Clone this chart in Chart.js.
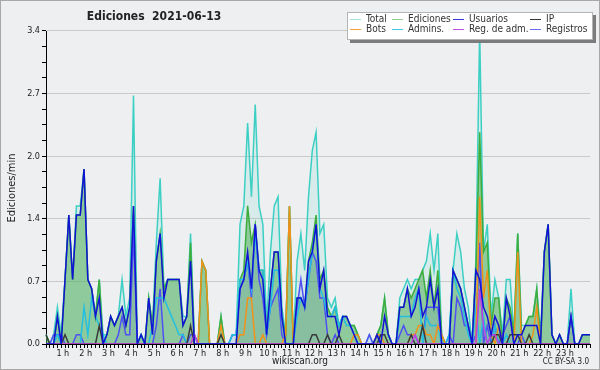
<!DOCTYPE html>
<html>
<head>
<meta charset="utf-8">
<script src="https://cdn.jsdelivr.net/npm/chart.js@4.4.1/dist/chart.umd.min.js"></script>
<style>
  html, body { margin: 0; padding: 0; background: #eeeff1; }
  canvas { display: block; }
</style>
</head>
<body>
<canvas id="edits" width="600" height="370"></canvas>
<script>
// 10-minute slots over the day, values in edits per minute
const slots = Array.from({ length: 144 }, (_, i) => i);
const hourTicks = ['1 h','2 h','3 h','4 h','5 h','6 h','7 h','8 h','9 h','10 h','11 h','12 h',
                   '13 h','14 h','15 h','16 h','17 h','18 h','19 h','20 h','21 h','22 h','23 h'];
const yTicks = ['0.0','0.7','1.4','2.0','2.7','3.4'];

const total = [
  0.1,0,0.1,0.4,0.1,0.7, 1.4,0.7,1.5,1.5,1.9,0.7, 0.6,0.3,0.7,0.1,0.1,0.3, 0.2,0.3,0.7,0.3,0.5,2.7,
  0,0.1,0,0.5,0.2,1.1, 1.8,0.6,0.7,0.7,0.7,0.7, 0.3,0.3,1.2,0.1,0,0.9, 0.8,0,0,0,0.3,0,
  0,0.1,0.1,1.3,1.5,2.4, 1.6,2.6,1.5,1.3,0.2,1.0, 1.5,1.6,0.4,0.1,1.5,0, 0.9,1.2,0.8,1.6,2.1,2.3,
  1.2,1.3,0.5,0.4,0.5,0.2, 0.3,0.3,0.2,0.2,0.1,0, 0,0.1,0,0.1,0.2,0.5, 0.1,0,0,0.5,0.6,0.7,
  0.6,0.7,0.7,0.8,0.9,1.2, 0.8,1.2,0.1,0,0.1,0.8, 1.2,1.0,0.6,0.4,0,0.9, 3.4,1.0,1.3,0.3,0.7,0.5,
  0.1,0.7,0.7,0.1,1.2,0.2, 0.2,0.3,0.3,0.6,0.1,1.0, 1.3,0.1,0,0.1,0,0, 0.6,0,0,0.1,0.1,0.1
];
const ediciones = [
  0.1,0,0,0.3,0,0.7, 1.4,0.7,1.4,1.4,1.9,0.7, 0.6,0.3,0.7,0,0.1,0.3, 0.2,0.3,0.4,0.2,0.4,1.5,
  0,0.1,0,0.5,0.2,0.9, 1.2,0.6,0.7,0.7,0.7,0.7, 0.2,0.3,1.1,0,0,0.9, 0.8,0,0,0,0.3,0,
  0,0,0,0.7,0.8,1.5, 1.1,1.3,0.8,0.8,0.1,0.6, 1.0,1.0,0.3,0.1,1.5,0, 0.5,0.5,0.4,0.9,1.1,1.4,
  0.7,0.8,0.4,0.3,0.4,0.2, 0.3,0.3,0.2,0.2,0.1,0, 0,0,0,0.1,0.2,0.5, 0.1,0,0,0.4,0.4,0.6,
  0.5,0.6,0.7,0.8,0.5,0.8, 0.4,0.8,0.1,0,0,0.8, 0.7,0.6,0.4,0.2,0,0.8, 2.3,1.0,1.1,0.2,0.5,0.5,
  0,0.5,0.4,0.1,1.2,0.1, 0.2,0.3,0.3,0.6,0,1.0, 1.3,0.1,0,0.1,0,0, 0.3,0,0,0.1,0.1,0.1
];
const usuarios = [
  0,0,0,0.3,0,0.7, 1.4,0.7,1.4,1.4,1.9,0.7, 0.6,0.3,0.5,0,0.1,0.3, 0.2,0.3,0.4,0.2,0.4,1.5,
  0,0.1,0,0.5,0.1,0.9, 1.2,0.5,0.7,0.7,0.7,0.7, 0.2,0.3,0.9,0,0,0, 0,0,0,0,0,0,
  0,0,0,0.6,0.7,1.0, 0.6,1.3,0.8,0.7,0.1,0.6, 1.0,1.0,0.3,0,0,0, 0.5,0.5,0.4,0.9,1.0,1.3,
  0.6,0.8,0.3,0.3,0.3,0.1, 0.3,0.3,0.2,0.1,0,0, 0,0,0,0.1,0,0.3, 0.1,0,0,0.4,0.4,0.6,
  0.3,0.4,0.6,0.3,0.4,0.7, 0.4,0.6,0,0,0,0.8, 0.7,0.6,0.4,0.2,0,0.8, 0.7,0.4,0.3,0.1,0.3,0.2,
  0,0.5,0.3,0,0.1,0.1, 0.2,0.2,0.2,0.2,0,1.0, 1.3,0.1,0,0.1,0,0, 0.3,0,0,0.1,0.1,0.1
];
const ip = [
  0.1,0,0,0,0,0.1, 0,0,0,0,0,0, 0,0,0.2,0,0,0, 0,0,0,0,0,0,
  0,0,0,0,0,0, 0,0,0,0,0,0, 0,0,0.2,0,0,0, 0,0,0,0,0.1,0,
  0,0,0,0,0,0, 0,0,0,0,0,0, 0,0,0,0,0,0, 0,0,0,0,0.1,0.1,
  0,0,0.1,0,0,0.1, 0,0,0,0,0,0, 0,0,0,0,0.1,0.1, 0,0,0,0,0,0,
  0.1,0,0,0.2,0,0, 0,0,0,0,0,0, 0,0,0,0,0,0, 0,0,0,0,0.1,0.1,
  0,0,0.1,0.1,0.1,0, 0,0.1,0,0,0,0, 0,0,0,0,0,0, 0,0,0,0,0,0
];
const bots = [
  0,0,0,0,0,0, 0,0,0,0,0,0, 0,0,0,0,0,0, 0,0,0,0,0,0,
  0,0,0,0,0,0, 0,0,0,0,0,0, 0,0,0,0,0,0.9, 0.8,0,0,0,0.2,0,
  0,0,0,0.1,0.1,0.5, 0.5,0,0,0.1,0,0, 0,0,0,0.1,1.5,0, 0,0,0,0,0,0,
  0,0,0,0,0,0, 0,0,0,0.1,0.1,0, 0,0,0,0.1,0.1,0, 0,0,0,0,0,0,
  0.1,0.1,0.2,0.2,0.1,0.1, 0,0.2,0.1,0,0,0, 0,0,0,0,0,0, 1.6,0.5,0.8,0.1,0,0.2,
  0,0,0,0,1.0,0, 0,0,0.1,0.4,0,0, 0,0,0,0,0,0, 0,0,0,0,0,0
];
const admins = [
  0,0,0,0.1,0,0, 0,0,0,0,0.4,0.1, 0.5,0.3,0.2,0.1,0,0, 0,0,0,0,0,0,
  0,0.1,0,0,0.2,0.5, 0.5,0.5,0.4,0.3,0.2,0.1, 0.1,0,0,0,0,0, 0,0,0,0,0,0,
  0,0.1,0.1,0.7,0.7,0.9, 0.6,1.2,0.8,0.8,0.1,0.4, 0.8,0.8,0.3,0,0,0, 0.3,0.5,0.4,0.7,1.0,1.3,
  0.6,0.5,0.3,0.3,0.4,0.2, 0.3,0.2,0.2,0.1,0,0, 0,0,0,0,0,0, 0,0,0,0.3,0.3,0.3,
  0.3,0.5,0.6,0,0.3,0.2, 0.2,0.2,0,0,0.1,0.8, 0.6,0.5,0.3,0.1,0,0.4, 0,0.3,0,0,0.2,0,
  0,0.1,0,0,0,0, 0,0,0,0,0,0, 0,0,0,0,0,0, 0,0,0,0,0,0
];
const regAdm = [
  0,0,0,0,0,0, 0,0,0,0,0,0, 0,0,0,0,0,0, 0,0,0,0,0,0,
  0,0,0,0,0,0, 0,0,0,0,0,0, 0,0,0,0.1,0,0, 0,0,0,0,0,0,
  0,0,0,0,0,0, 0,0,0,0,0,0, 0,0,0,0,0,0, 0,0,0,0,0,0,
  0,0,0,0,0,0, 0,0,0,0,0,0, 0,0,0,0,0,0, 0,0,0,0,0,0,
  0,0.1,0,0,0,0, 0,0,0,0,0,0, 0,0,0,0,0,0, 0.6,0.2,0,0.1,0.1,0,
  0,0,0,0,0,0, 0,0,0,0,0,0, 0,0,0,0,0,0, 0,0,0,0,0,0
];
const registros = [
  0,0,0.1,0.1,0.1,0, 0,0,0.1,0.1,0,0, 0,0,0,0,0,0, 0,0.1,0.3,0.1,0.1,1.2,
  0,0,0,0,0,0.2, 0.6,0,0,0,0,0, 0.1,0,0.1,0.1,0,0, 0,0,0,0,0,0,
  0,0.1,0.1,0.6,0.7,0.9, 0.5,1.3,0.7,0.5,0.1,0.4, 0.5,0.6,0.1,0,0,0, 0.4,0.7,0.4,0.7,1.0,0.9,
  0.5,0.5,0.1,0,0.1,0, 0,0,0,0,0,0, 0,0.1,0,0.1,0,0, 0,0,0,0.1,0.2,0.1,
  0.1,0.1,0,0,0.4,0.4, 0.4,0.4,0,0,0.1,0, 0.5,0.4,0.2,0.2,0,0.1, 1.1,0,0.2,0,0.2,0,
  0.1,0.2,0.3,0,0,0.1, 0,0,0,0,0,0, 0,0,0,0,0,0, 0.3,0,0,0,0,0
];

const legendItems = [
  ['Total', '#9fe3dc'], ['Ediciones', '#8fd08f'], ['Usuarios', '#3a3ae0'], ['IP', '#333333'],
  ['Bots', '#f2a040'], ['Admins.', '#40c8e6'], ['Reg. de adm.', '#c050e0'], ['Registros', '#6a6af0']
];

const FONT = '"DejaVu Sans Condensed", "DejaVu Sans", sans-serif';

const decor = {
  id: 'decor',
  beforeDraw(chart) {
    const c = chart.ctx;
    c.save();
    c.fillStyle = '#eeeff1';
    c.fillRect(0, 0, chart.width, chart.height);
    c.restore();
  },
  afterDraw(chart) {
    const c = chart.ctx;
    c.save();
    c.fillStyle = '#222';
    c.textBaseline = 'middle';

    c.font = 'bold 12px ' + FONT;
    c.textAlign = 'center';
    c.fillText('Ediciones  2021-06-13', 154, 17);

    c.font = '10px ' + FONT;
    c.fillText('wikiscan.org', 300, 361);

    c.font = '8px ' + FONT;
    c.textAlign = 'right';
    c.fillText('CC BY-SA 3.0', 589, 362);

    c.save();
    c.translate(12, 188);
    c.rotate(-Math.PI / 2);
    c.textAlign = 'center';
    c.font = '11px ' + FONT;
    c.fillText('Ediciones/min', 0, 0);
    c.restore();

    // legend box with shadow
    c.fillStyle = '#7c7c7c';
    c.fillRect(350, 15, 246, 28);
    c.fillStyle = '#ffffff';
    c.fillRect(347, 12, 246, 28);
    c.strokeStyle = '#b4b4b4';
    c.lineWidth = 1;
    c.strokeRect(347.5, 12.5, 245, 27);

    const cols = [350, 392, 453, 530];
    const rows = [19.5, 29.5];
    c.font = '10px ' + FONT;
    c.textAlign = 'left';
    legendItems.forEach(([name, col], k) => {
      const x = cols[k % 4], y = rows[Math.floor(k / 4)];
      c.strokeStyle = col;
      c.beginPath();
      c.moveTo(x, y);
      c.lineTo(x + 11, y);
      c.stroke();
      c.fillStyle = '#333';
      c.fillText(name, x + 16, y);
    });

    c.strokeStyle = '#a8a8a8';
    c.strokeRect(0.5, 0.5, chart.width - 1, chart.height - 1);
    c.restore();
  }
};

const line = (label, data, color, order, extra) => Object.assign({
  label, data, borderColor: color, borderWidth: 1.5, pointRadius: 0, fill: false, order
}, extra || {});

new Chart(document.getElementById('edits'), {
  type: 'line',
  data: {
    labels: slots,
    datasets: [
      line('Usuarios', usuarios, '#1212d6', 1),
      line('Reg. de adm.', regAdm, '#c040e0', 2),
      line('IP', ip, '#3a3a3a', 3),
      line('Bots', bots, '#f0921a', 4),
      line('Admins.', admins, '#22bfe3', 5),
      line('Registros', registros, '#4f4ff2', 6, { fill: 'origin', backgroundColor: 'rgba(60,60,220,0.07)' }),
      line('Ediciones', ediciones, '#3dae3d', 7, { fill: 'origin', backgroundColor: 'rgba(70,170,75,0.5)' }),
      line('Total', total, '#3ccfc4', 8, { fill: 'origin', backgroundColor: 'rgba(60,207,196,0.13)' })
    ]
  },
  options: {
    responsive: false,
    animation: false,
    devicePixelRatio: 1,
    layout: { padding: { top: 31, right: 10, bottom: 0, left: 0 } },
    elements: { line: { tension: 0 } },
    plugins: { legend: { display: false }, tooltip: { enabled: false } },
    scales: {
      x: {
        afterFit: s => { s.height = 26; },
        border: { color: '#000', width: 1 },
        grid: { drawOnChartArea: false, tickLength: 4, tickColor: '#000' },
        ticks: {
          autoSkip: false, maxRotation: 0, padding: 0, labelOffset: -6,
          color: '#222', font: { family: FONT, size: 9 },
          callback: (v, i) => (i > 0 && i % 6 === 0) ? hourTicks[i / 6 - 1] : ''
        }
      },
      y: {
        min: 0, max: 3.4,
        afterFit: s => { s.width = 46; },
        afterBuildTicks: s => { s.ticks = Array.from({ length: 21 }, (_, k) => ({ value: k * 0.17 })); },
        border: { color: '#000', width: 1 },
        grid: {
          tickLength: 4, tickColor: '#000',
          color: ctx => (ctx.index > 0 && ctx.index % 4 === 0) ? '#c9c9c9' : 'rgba(0,0,0,0)'
        },
        ticks: {
          padding: 2, color: '#222', font: { family: FONT, size: 9 },
          callback: (v, i) => i % 4 === 0 ? yTicks[i / 4] : ''
        }
      }
    }
  },
  plugins: [decor]
});
</script>
</body>
</html>
